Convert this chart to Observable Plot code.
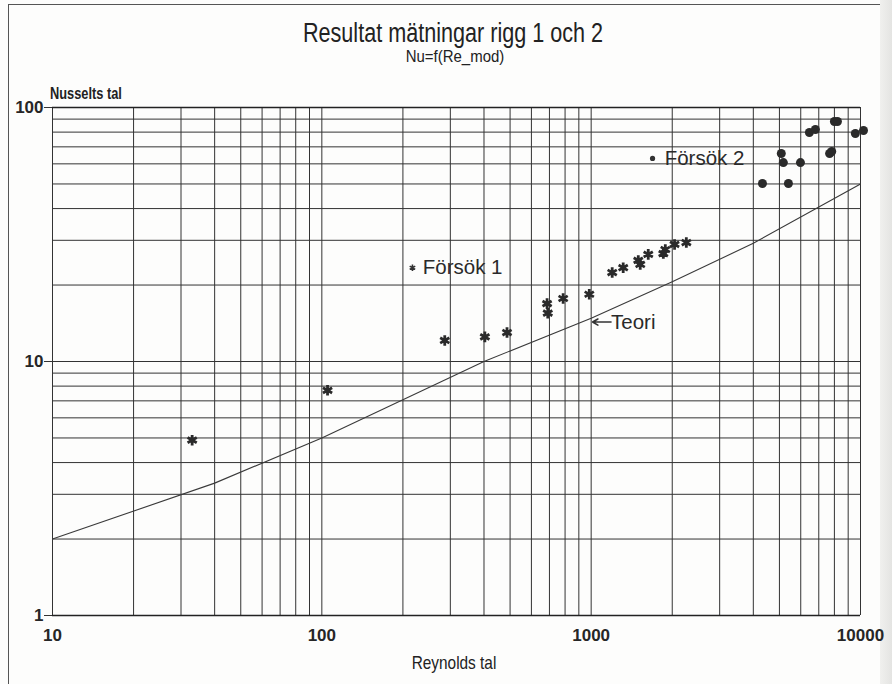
<!DOCTYPE html>
<html>
<head>
<meta charset="utf-8">
<script src="https://cdn.jsdelivr.net/npm/d3@7"></script>
<script src="https://cdn.jsdelivr.net/npm/@observablehq/plot@0.6"></script>
<style>
  html, body { margin: 0; padding: 0; background: #fdfdfc; }
  #wrap { position: relative; width: 892px; height: 684px; overflow: hidden; }
  .narrow { font-family: "Liberation Sans", Arial, sans-serif; color: #222; position: absolute; white-space: nowrap; }
  #title { left: 0; width: 906px; text-align: center; top: 18px; font-size: 27px; transform: scaleX(0.8); transform-origin: 453px 0; }
  #subtitle { left: 0; width: 910px; text-align: center; top: 47px; font-size: 17px; transform: scaleX(0.88); transform-origin: 455px 0; }
  #ylabel { left: 50px; top: 85px; font-size: 16px; font-weight: bold; transform: scaleX(0.8); transform-origin: 0 0; }
  #xlabel { left: 0; width: 908px; text-align: center; top: 652px; font-size: 19px; transform: scaleX(0.81); transform-origin: 454px 0; }
  #bleft { position: absolute; left: 8px; top: 4px; width: 1px; height: 680px; background: #555; }
  #btop { position: absolute; left: 8px; top: 4px; width: 874px; height: 1px; background: #555; }
  #shade { position: absolute; left: 880px; top: 0; width: 12px; height: 684px; background: linear-gradient(to right, #f0f0ee, #e4e4e2); }
  #plot { position: absolute; left: 0; top: 0; }
</style>
</head>
<body>
<div id="wrap">
  <div id="bleft"></div>
  <div id="btop"></div>
  <div id="shade"></div>
  <div id="plot"></div>
  <div id="title" class="narrow">Resultat mätningar rigg 1 och 2</div>
  <div id="subtitle" class="narrow">Nu=f(Re_mod)</div>
  <div id="ylabel" class="narrow">Nusselts tal</div>
  <div id="xlabel" class="narrow">Reynolds tal</div>
</div>
<script>
// Grid / tick values
const xGrid = [10,20,30,40,50,60,70,80,90,100,200,300,400,500,600,700,800,900,1000,2000,3000,4000,5000,6000,7000,8000,9000,10000];
const yGrid = [1,2,3,4,5,6,7,8,9,10,20,30,40,50,60,70,80,90,100];
const xTicks = [10, 100, 1000, 10000];
const yTicks = [1, 10, 100];

// Försök 1 (asterisks)
const f1Re = [33, 105, 286, 403, 487, 686, 690, 787, 984, 1197, 1315, 1496, 1521, 1629, 1853, 1885, 2040, 2256];
const f1Nu = [4.9, 7.7, 12.1, 12.5, 13.0, 16.9, 15.5, 17.7, 18.4, 22.4, 23.4, 25.0, 24.1, 26.4, 26.6, 27.6, 28.9, 29.4];

// Försök 2 (dots)
const f2Re = [4325, 5080, 5170, 5400, 5985, 6460, 6800, 7680, 7820, 8000, 8210, 9570, 10260];
const f2Nu = [50.2, 65.9, 60.7, 50.2, 60.7, 79.7, 81.9, 65.9, 67.1, 88.1, 88.1, 79.0, 81.2];

// Teori (line)
const thRe = [10, 40, 100, 400, 1000, 2000, 4000, 10000];
const thNu = [2, 3.32, 5.0, 10, 14.8, 20.6, 29.2, 50];

// Annotations
const labText = ["Försök 1", "Försök 2", "Teori"];
const labRe = [237, 1875, 1185];
const labNu = [23.4, 63, 14.3];
const symRe1 = [217], symNu1 = [23.4];
const symRe2 = [1690], symNu2 = [63];
const arrowRe = [1185, 1012], arrowNu = [14.3, 14.3];

const f1 = f1Re.map((x, i) => ({x, y: f1Nu[i]}));
const f2 = f2Re.map((x, i) => ({x, y: f2Nu[i]}));
const th = thRe.map((x, i) => ({x, y: thNu[i]}));
const labs = labText.map((t, i) => ({t, x: labRe[i], y: labNu[i]}));

const ink = "#262626";
const tickFont = "'Liberation Sans', Arial, sans-serif";

const chart = Plot.plot({
  width: 892,
  height: 684,
  marginLeft: 52,
  marginRight: 32,
  marginTop: 107,
  marginBottom: 69,
  style: { background: "transparent", color: ink, fontFamily: tickFont },
  x: { type: "log", domain: [10, 10000] },
  y: { type: "log", domain: [1, 100] },
  marks: [
    Plot.ruleX(xGrid, { x: d => d, stroke: "#333", strokeWidth: 1 }),
    Plot.ruleY(yGrid, { y: d => d, stroke: "#333", strokeWidth: 1 }),
    Plot.ruleY([100], { y: d => d, stroke: "#222", strokeWidth: 1.6 }),
    Plot.ruleY([1], { y: d => d, stroke: "#222", strokeWidth: 1.6 }),
    Plot.axisY({ ticks: yTicks, tickFormat: d => String(d), tickSize: 8, tickPadding: 1, fontSize: 17, fontWeight: "bold", label: null, stroke: "#333" }),
    Plot.axisX({ ticks: xTicks, tickFormat: d => String(d), tickSize: 0, tickPadding: 13, fontSize: 17, fontWeight: "bold", label: null }),
    Plot.line(th, { x: "x", y: "y", stroke: "#3a3a3a", strokeWidth: 1.1 }),
    Plot.dot(f1, { x: "x", y: "y", symbol: "asterisk", r: 5, stroke: "#2a2a2a", strokeWidth: 2.8 }),
    Plot.dot(f2, { x: "x", y: "y", r: 4.5, fill: "#2a2a2a", stroke: "none" }),
    Plot.dot(symRe1, { x: d => d, y: (d, i) => symNu1[i], symbol: "asterisk", r: 3, stroke: "#333", strokeWidth: 1.6 }),
    Plot.dot(symRe2, { x: d => d, y: (d, i) => symNu2[i], r: 2.6, fill: "#333", stroke: "none" }),
    Plot.text(labs, { x: "x", y: "y", text: "t", textAnchor: "start", lineAnchor: "middle", fontSize: 20.5, fill: "#2a2a2a", fontFamily: tickFont }),
    Plot.arrow([0], { x1: () => arrowRe[0], x2: () => arrowRe[1], y1: () => arrowNu[0], y2: () => arrowNu[1], stroke: "#333", strokeWidth: 1.6, headLength: 7, bend: 0 })
  ]
});
document.getElementById("plot").appendChild(chart);
</script>
</body>
</html>
